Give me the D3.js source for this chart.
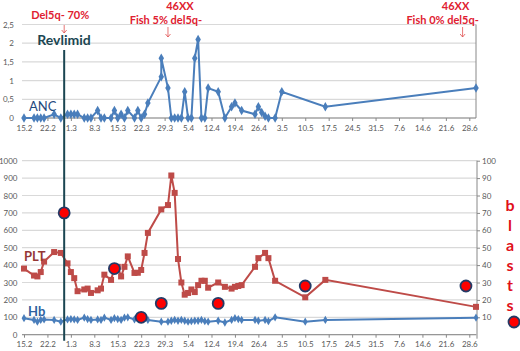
<!DOCTYPE html>
<html><head><meta charset="utf-8">
<script src="https://cdn.jsdelivr.net/npm/d3@7"></script>
<style>
html,body{margin:0;padding:0;background:#fff;}
svg{display:block;font-family:Lato,"Open Sans",sans-serif;}
</style></head>
<body><svg id="c" width="520" height="351"></svg>
<script>
// ---------- data (dates as "d.m", year 2011) ----------
const xTickLabels = ["15.2","22.2","1.3","8.3","15.3","22.3","29.3","5.4","12.4","19.4","26.4","3.5","10.5","17.5","24.5","31.5","7.6","14.6","21.6","28.6"];
const ancTicks = [0,0.5,1,1.5,2,2.5];
const pltTicks = [0,100,200,300,400,500,600,700,800,900,1000];
const blastTicks = [10,20,30,40,50,60,70,80,90,100];

const ancDates = ["15.2","18.2","19.2","20.2","21.2","24.2","26.2","28.2","1.3","2.3","3.3","5.3","6.3","7.3","9.3","10.3","11.3","13.3","14.3","15.3","16.3","17.3","18.3","20.3","21.3","22.3","23.3","24.3","28.3","28.3","30.3","31.3","1.4","2.4","3.4","4.4","5.4","6.4","7.4","8.4","9.4","10.4","11.4","14.4","16.4","18.4","19.4","21.4","25.4","26.4","27.4","28.4","29.4","1.5","3.5","16.5","30.6"];
const ancValues = [0,0,0,0,0,0.1,0,0.1,0.1,0.1,0.1,0,0,0,0.2,0,0,0,0.2,0,0.1,0,0.2,0,0.2,0,0.1,0.4,1.1,1.6,0.8,0,0,0,0,0.7,0,0,1.6,2.1,0,0,0.8,0.7,0,0.3,0.4,0.2,0.1,0.3,0.15,0.05,0,0,0.7,0.3,0.8];

const pltDates = ["15.2","18.2","19.2","20.2","21.2","24.2","26.2","28.2","1.3","2.3","3.3","5.3","6.3","7.3","9.3","10.3","11.3","13.3","14.3","15.3","16.3","17.3","18.3","20.3","21.3","22.3","23.3","24.3","28.3","30.3","31.3","1.4","2.4","3.4","4.4","5.4","6.4","7.4","8.4","9.4","10.4","11.4","14.4","16.4","18.4","19.4","20.4","21.4","25.4","26.4","28.4","29.4","1.5","10.5","16.5","30.6"];
const pltValues = [380,340,335,360,420,475,470,410,360,325,250,260,265,240,255,265,345,315,380,390,335,390,450,355,356,372,470,585,720,745,915,815,435,300,230,240,260,245,285,310,310,270,300,275,265,275,280,285,390,440,470,440,310,215,315,160];

const hbDates = ["15.2","18.2","19.2","20.2","21.2","24.2","26.2","28.2","1.3","2.3","3.3","5.3","6.3","7.3","9.3","10.3","11.3","13.3","14.3","15.3","16.3","17.3","18.3","20.3","21.3","22.3","24.3","28.3","30.3","31.3","1.4","2.4","3.4","4.4","5.4","6.4","7.4","8.4","9.4","10.4","11.4","14.4","16.4","18.4","19.4","20.4","21.4","25.4","26.4","28.4","29.4","1.5","10.5","16.5","30.6"];
const hbValues = [95,85,75,85,88,85,75,88,90,88,85,98,90,85,88,85,98,85,95,90,85,98,100,88,95,90,85,75,75,80,85,80,85,80,75,78,80,80,85,78,75,80,70,85,95,90,85,85,80,85,78,100,75,85,98];

const blastDates = ["27.2","14.3","22.3","28.3","14.4","10.5","27.6"];
const blastValues = [70,38,10,18,18,28,28];

const revlimidDate = "27.2";
const annotations = [
  {date:"27.2", lines:["Del5q- 70%"], dx:[-4]},
  {date:"30.3", lines:["46XX","Fish 5% del5q-"], dx:[12,-2]},
  {date:"26.6", lines:["46XX","Fish 0% del5q-"], dx:[-7,-20]}
];

// ---------- helpers ----------
const parseDM = s => { const [d,m] = s.split(".").map(Number); return new Date(2011, m-1, d); };
const zip = (ds, vs) => ds.map((d,i) => ({x: parseDM(d), v: vs[i]}));
const anc = zip(ancDates, ancValues), plt = zip(pltDates, pltValues), hb = zip(hbDates, hbValues), blasts = zip(blastDates, blastValues);

const svg = d3.select("#c");
const x = d3.scaleTime().domain([new Date(2011,1,15), new Date(2011,5,30)]).range([24,476]);
const yA = d3.scaleLinear().domain([0,2.5]).range([118,24.5]);
const yP = d3.scaleLinear().domain([0,1000]).range([334.7,160.7]);
const yB = d3.scaleLinear().domain([0,100]).range([334.7,160.7]);

const gridCol = "#d9d9d9", axisTxt = "#595959";
const blue = "#4a7ebb", red = "#be4b48";

// grids
svg.append("g").selectAll("line").data(ancTicks).join("line")
  .attr("x1",22).attr("x2",476).attr("y1",d=>yA(d)).attr("y2",d=>yA(d))
  .attr("stroke",gridCol).attr("stroke-width",1.2);
svg.append("g").selectAll("line").data(pltTicks).join("line")
  .attr("x1",22).attr("x2",477).attr("y1",d=>yP(d)).attr("y2",d=>yP(d))
  .attr("stroke",gridCol).attr("stroke-width",1.2);

// y axes
function styleAxis(g){
  g.select(".domain").remove();
  g.selectAll(".tick line").remove();
  g.selectAll("text").attr("fill",axisTxt).style("font-size","8px").style("font-family","Lato,sans-serif");
}
svg.append("g").attr("transform","translate(16,0)")
  .call(d3.axisLeft(yA).tickValues(ancTicks).tickFormat(d=>String(d).replace(".",",")).tickSize(0).tickPadding(2))
  .call(styleAxis);
svg.append("g").attr("transform","translate(19.5,0)")
  .call(d3.axisLeft(yP).tickValues(pltTicks).tickFormat(d3.format("d")).tickSize(0).tickPadding(2))
  .call(styleAxis);
svg.append("g").attr("transform","translate(477,0)")
  .call(d3.axisRight(yB).tickValues(blastTicks).tickFormat(d3.format("d")).tickSize(3).tickPadding(2))
  .call(g=>{ g.select(".domain").remove(); g.selectAll(".tick line").attr("stroke","#888");
    g.selectAll("text").attr("fill",axisTxt).style("font-size","8px").style("font-family","Lato,sans-serif"); });

// right vertical axis lines
svg.append("line").attr("x1",476).attr("x2",476).attr("y1",yA(2.5)).attr("y2",yA(0)).attr("stroke","#888");
svg.append("line").attr("x1",477).attr("x2",477).attr("y1",yP(1000)).attr("y2",yP(0)+4).attr("stroke","#888");

// x axes
const xTicks = xTickLabels.map(parseDM);
function xAxis(yPos){
  const g = svg.append("g").attr("transform",`translate(0,${yPos})`)
    .call(d3.axisBottom(x).tickValues(xTicks).tickFormat((d,i)=>xTickLabels[i]).tickSize(3).tickPadding(4));
  g.select(".domain").attr("stroke","#888").attr("d",`M22,0H476`);
  g.selectAll(".tick line").attr("stroke","#888");
  g.selectAll("text").attr("fill",axisTxt).style("font-size","8px").style("font-family","Lato,sans-serif");
}
xAxis(yA(0));
xAxis(yP(0));

// lines
const lineA = d3.line().x(d=>x(d.x)).y(d=>yA(d.v));
const lineP = d3.line().x(d=>x(d.x)).y(d=>yP(d.v));
svg.append("path").datum(anc).attr("d",lineA).attr("fill","none").attr("stroke",blue).attr("stroke-width",2);
svg.append("path").datum(plt).attr("d",lineP).attr("fill","none").attr("stroke",red).attr("stroke-width",2);
svg.append("path").datum(hb).attr("d",lineP).attr("fill","none").attr("stroke",blue).attr("stroke-width",2);

const diamond = d3.symbol().type(d3.symbolDiamond);
svg.append("g").selectAll("path").data(anc).join("path")
  .attr("transform",d=>`translate(${x(d.x)},${yA(d.v)})`).attr("d",diamond.size(26)()).attr("fill",blue);
svg.append("g").selectAll("path").data(hb).join("path")
  .attr("transform",d=>`translate(${x(d.x)},${yP(d.v)})`).attr("d",d3.symbol().type(d3.symbolDiamond).size(20)()).attr("fill",blue);
svg.append("g").selectAll("rect").data(plt).join("rect")
  .attr("x",d=>x(d.x)-3).attr("y",d=>yP(d.v)-3).attr("width",6).attr("height",6).attr("fill",red);

// Revlimid line
const rx = x(parseDM(revlimidDate));
svg.append("line").attr("x1",rx).attr("x2",rx).attr("y1",50).attr("y2",yP(0)+6).attr("stroke","#1b4652").attr("stroke-width",2);

// blasts
svg.append("g").selectAll("circle").data(blasts).join("circle")
  .attr("cx",d=>x(d.x)).attr("cy",d=>yB(d.v)).attr("r",5.5)
  .attr("fill","#ff0000").attr("stroke","#243a66").attr("stroke-width",1.8);
// legend marker
svg.append("circle").attr("cx",514).attr("cy",322).attr("r",5.5).attr("fill","#ff0000").attr("stroke","#243a66").attr("stroke-width",1.8);

// labels
svg.append("text").attr("x",64).attr("y",45).attr("text-anchor","middle").attr("fill","#1b4652")
  .style("font-size","14px").style("font-weight","bold").text("Revlimid");
svg.append("text").attr("x",29).attr("y",111).attr("fill","#1f497d").style("font-size","13px").text("ANC");
svg.append("text").attr("x",24).attr("y",261).attr("fill","#953735").style("font-size","13px").style("font-weight","bold").text("PLT");
svg.append("text").attr("x",28).attr("y",316).attr("fill","#2e62a0").style("font-size","13px").style("font-weight","bold").text("Hb");
const bl = "blasts".split("");
svg.append("g").selectAll("text").data(bl).join("text")
  .attr("x",510).attr("y",(d,i)=>211+i*20).attr("text-anchor","middle").attr("fill","#e0101a")
  .style("font-size","16px").style("font-weight","bold").text(d=>d);

// annotations
annotations.forEach(a=>{
  const ax = x(parseDM(a.date));
  const n = a.lines.length;
  a.lines.forEach((t,i)=>{
    svg.append("text").attr("x",ax+a.dx[i]).attr("y",(n===1?19:10+i*14)).attr("text-anchor","middle")
      .attr("fill","#e02030").style("font-size","11px").style("font-weight","bold").text(t);
  });
  const y0 = n===1?25:27, y1 = n===1?33:37;
  svg.append("path").attr("d",`M${ax},${y0}V${y1}M${ax-2.5},${y1-3}L${ax},${y1}L${ax+2.5},${y1-3}`)
    .attr("fill","none").attr("stroke","#e05050").attr("stroke-width",0.8);
});
</script></body></html>
